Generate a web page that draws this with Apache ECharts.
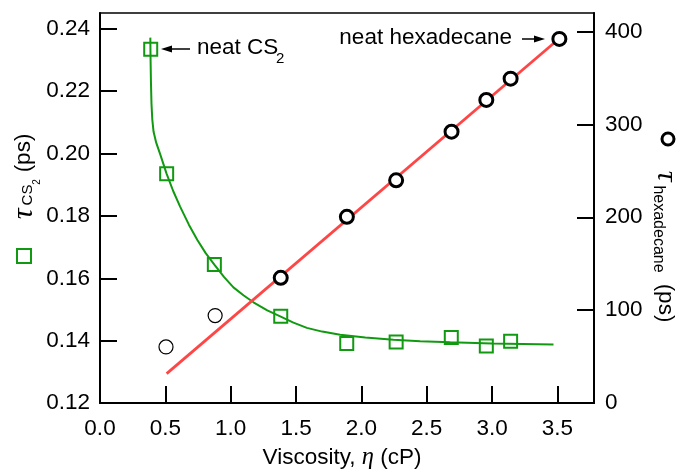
<!DOCTYPE html>
<html>
<head>
<meta charset="utf-8">
<script src="https://cdn.jsdelivr.net/npm/echarts@6/dist/echarts.min.js"></script>
<style>
html,body{margin:0;padding:0;background:#fff;}
#chart{width:678px;height:470px;}
</style>
</head>
<body>
<div id="chart"></div>
<script>
// ---- data ----
var cs2Visc = [0.388, 0.51, 0.875, 1.383, 1.888, 2.266, 2.688, 2.956, 3.142];
var cs2Tau  = [0.2335, 0.1935, 0.1644, 0.1478, 0.1391, 0.1396, 0.1410, 0.1383, 0.1398];

var cs2FitVisc = [0.385, 0.387, 0.390, 0.394, 0.400, 0.410, 0.430, 0.459, 0.51, 0.56, 0.613, 0.68, 0.745, 0.81, 0.875, 0.95, 1.021, 1.10, 1.174, 1.28, 1.383, 1.48, 1.583, 1.70, 1.838, 2.03, 2.246, 2.45, 2.68, 3.0, 3.47];
var cs2FitTau  = [0.2372, 0.2300, 0.2226, 0.2160, 0.2110, 0.2070, 0.2035, 0.2000, 0.1935, 0.1880, 0.1830, 0.1772, 0.1723, 0.1680, 0.1644, 0.1604, 0.1571, 0.1545, 0.1523, 0.1497, 0.1477, 0.1458, 0.1441, 0.1429, 0.1419, 0.1410, 0.1403, 0.1398, 0.1395, 0.1391, 0.1388];

var hexVisc = [1.383, 1.889, 2.266, 2.69, 2.956, 3.142, 3.515];
var hexTau  = [134.8, 200.5, 239.8, 292.2, 326.4, 349.3, 392.1];

var hexOutVisc = [0.505, 0.881];
var hexOutTau  = [60.4, 94.2];

var hexFitVisc = [0.51, 3.51];
var hexFitTau  = [31.7, 392];

var xTicks = {min: 0, max: 3.78, interval: 0.5};
var yLeftTicks = {min: 0.12, max: 0.2451, interval: 0.02};
var yRightTicks = {min: 0, max: 420, interval: 100};

function pairs(xs, ys){ return xs.map(function(x,i){ return [x, ys[i]]; }); }

var GREEN = '#119a11';
var RED = '#ff4646';
var FONT = '"Liberation Sans", Arial, Helvetica, sans-serif';
var SERIF = '"Liberation Serif", "DejaVu Serif", serif';
var FS = 22.5;

var chart = echarts.init(document.getElementById('chart'), null, {renderer:'canvas'});

var axisLine = {show:true, lineStyle:{color:'#000', width:2}};
var axisTick = {show:true, inside:true, length:17, lineStyle:{color:'#000', width:2}};
var axisLabel = {color:'#000', fontSize:FS, fontFamily:FONT, showMaxLabel:false};

var option = {
  animation:false,
  backgroundColor:'#fff',
  grid:{left:100, right:84, top:13, bottom:67, show:true, borderColor:'#000', borderWidth:1.5, backgroundColor:'transparent'},
  xAxis:{
    type:'value', min:xTicks.min, max:xTicks.max, interval:xTicks.interval,
    axisLine:axisLine, axisTick:axisTick,
    axisLabel:Object.assign({}, axisLabel, {margin:14, formatter:function(v){return v.toFixed(1);}}),
    splitLine:{show:false}
  },
  yAxis:[{
    type:'value', position:'left', min:yLeftTicks.min, max:yLeftTicks.max, interval:yLeftTicks.interval,
    axisLine:axisLine, axisTick:axisTick,
    axisLabel:Object.assign({}, axisLabel, {margin:10, formatter:function(v){return v.toFixed(2);}}),
    splitLine:{show:false}
  },{
    type:'value', position:'right', min:yRightTicks.min, max:yRightTicks.max, interval:yRightTicks.interval,
    axisLine:axisLine, axisTick:axisTick,
    axisLabel:Object.assign({}, axisLabel, {margin:11}),
    splitLine:{show:false}
  }],
  series:[
    {type:'line', yAxisIndex:0, data:pairs(cs2FitVisc, cs2FitTau), showSymbol:false, symbol:'none',
     smooth:false, lineStyle:{color:GREEN, width:2}, z:2},
    {type:'line', yAxisIndex:1, data:pairs(hexFitVisc, hexFitTau), showSymbol:false, symbol:'none',
     lineStyle:{color:RED, width:2.8}, z:2},
    {type:'scatter', yAxisIndex:0, data:pairs(cs2Visc, cs2Tau), symbol:'rect', symbolSize:13,
     itemStyle:{color:'rgba(0,0,0,0)', borderColor:GREEN, borderWidth:2, opacity:1}, z:3},
    {type:'scatter', yAxisIndex:1, data:pairs(hexVisc, hexTau), symbol:'circle', symbolSize:13,
     itemStyle:{color:'#fff', borderColor:'#000', borderWidth:3, opacity:1}, z:4},
    {type:'scatter', yAxisIndex:1, data:pairs(hexOutVisc, hexOutTau), symbol:'circle', symbolSize:14,
     itemStyle:{color:'#fff', borderColor:'#000', borderWidth:1.2, opacity:1}, z:4}
  ],
  graphic:[
    // annotations
    {type:'text', x:197, y:48, style:{text:'neat CS', fill:'#000', font:FS+'px '+FONT, align:'left', verticalAlign:'middle'}},
    {type:'text', x:276, y:59, style:{text:'2', fill:'#000', font:'15px '+FONT, align:'left', verticalAlign:'middle'}},
    {type:'line', shape:{x1:190, y1:49, x2:168, y2:49}, style:{stroke:'#000', lineWidth:1.5}},
    {type:'polygon', shape:{points:[[161,49],[172,45.5],[172,52.5]]}, style:{fill:'#000'}},
    {type:'text', x:512, y:38, style:{text:'neat hexadecane', fill:'#000', font:FS+'px '+FONT, align:'right', verticalAlign:'middle'}},
    {type:'line', shape:{x1:522, y1:39, x2:538, y2:39}, style:{stroke:'#000', lineWidth:1.5}},
    {type:'polygon', shape:{points:[[545,39],[534,35.5],[534,42.5]]}, style:{fill:'#000'}},
    // x axis title
    {type:'text', x:342, y:458, style:{
      text:'{a|Viscosity, }{e|η}{a| (cP)}', align:'center', verticalAlign:'middle',
      rich:{a:{fontSize:FS, fontFamily:FONT, fill:'#000', color:'#000'}, e:{fontSize:FS+2, fontFamily:SERIF, fontStyle:'italic', fill:'#000', color:'#000'}}
    }},
    // left axis title
    {type:'text', x:24, y:153, rotation:Math.PI/2, style:{text:'(ps)', fill:'#000', font:FS+'px '+FONT, align:'center', verticalAlign:'middle'}},
    {type:'text', x:24, y:214, rotation:Math.PI/2, style:{text:'τ', fill:'#000', font:'italic 30px '+SERIF, align:'center', verticalAlign:'middle'}},
    {type:'text', x:28, y:195, rotation:Math.PI/2, style:{text:'CS', fill:'#000', font:'15px '+FONT, align:'center', verticalAlign:'middle'}},
    {type:'text', x:37, y:182, rotation:Math.PI/2, style:{text:'2', fill:'#000', font:'10px '+FONT, align:'center', verticalAlign:'middle'}},
    {type:'rect', shape:{x:17, y:249, width:14, height:14}, style:{fill:'none', stroke:GREEN, lineWidth:2}},
    // right axis title
    {type:'circle', shape:{cx:668, cy:139, r:6}, style:{fill:'#fff', stroke:'#000', lineWidth:3}},
    {type:'text', x:666, y:176, rotation:-Math.PI/2, style:{text:'τ', fill:'#000', font:'italic 30px '+SERIF, align:'center', verticalAlign:'middle'}},
    {type:'text', x:658, y:229, rotation:-Math.PI/2, style:{text:'hexadecane', fill:'#000', font:'16px '+FONT, align:'center', verticalAlign:'middle'}},
    {type:'text', x:665, y:303, rotation:-Math.PI/2, style:{text:'(ps)', fill:'#000', font:FS+'px '+FONT, align:'center', verticalAlign:'middle'}}
  ]
};
chart.setOption(option);
</script>
</body>
</html>
